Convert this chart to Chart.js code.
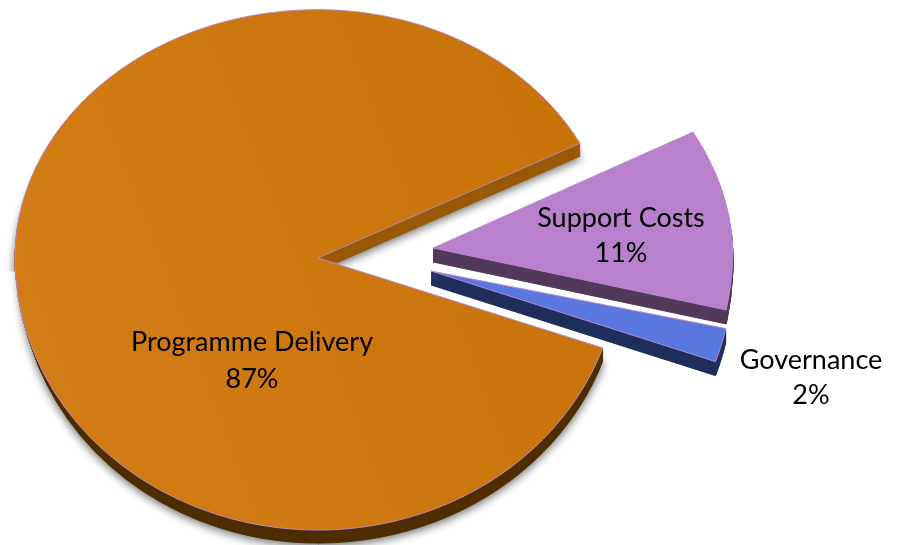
<!DOCTYPE html>
<html>
<head>
<meta charset="utf-8">
<title>Expenditure</title>
<script src="https://cdn.jsdelivr.net/npm/chart.js@4/dist/chart.umd.min.js"></script>
<style>
  html, body { margin: 0; padding: 0; background: #fff; }
  canvas { display: block; }
</style>
</head>
<body>
<canvas id="pie" width="901" height="545"></canvas>
<script>
const categories = ["Programme Delivery", "Support Costs", "Governance"];
const shares = [87, 11, 2];

const topColors = ["#cc780e", "#b981cd", "#5977de"];
const wallUpper = ["#9a5a08", "#533a5b", "#202e5c"];
const wallLower = ["#4f2e02", "#533a5b", "#202e5c"];
const explode = [[0, 0], [115, -10], [113, 13]];
const labelSpots = [[252, 342, 379], [621, 218, 253], [811, 360, 395]];
const depths = [13, 14, 14];

// The picture has perspective, so each slice is flattened piece by piece around its tip.
// box is the part of the slice the piece covers, sx/sy/k are scale and shear.
const B = 2000;
const pieces = [
  [
    { box: [-B, -B, 0.5, 0.5], sx: 1, sy: 0.82, k: 0, up: true },
    { box: [0, -B, B, 0.5], sx: 0.975, sy: 0.82, k: 0, up: true },
    { box: [-B, 0, 0.5, B], sx: 1, sy: 0.898, k: 0, up: false, lean: 0.0012 },
    { box: [0, 0, B, B], sx: 0.996, sy: 0.898, k: 0, up: false }
  ],
  [
    { box: [-B, -B, B, 0.5], sx: 0.99, sy: 0.829, k: 0.052, up: true },
    { box: [-B, 0, B, B], sx: 0.99, sy: 0.976, k: 0, up: false }
  ],
  [
    { box: [-B, -2, B, B], sx: 0.995, sy: 0.905, k: 0, up: false }
  ]
];

function drawPiece(ctx, el, p, tipX, tipY, sx, opts, shadow) {
  const saved = el.options;
  el.options = Object.assign(Object.create(saved), opts);
  ctx.save();
  ctx.beginPath();
  ctx.rect(tipX + p.box[0], tipY + p.box[1], p.box[2] - p.box[0], p.box[3] - p.box[1]);
  ctx.clip();
  if (shadow) {
    ctx.shadowColor = "rgba(0,0,0,0.6)";
    ctx.shadowBlur = 10;
    ctx.shadowOffsetX = 0;
    ctx.shadowOffsetY = 2;
  }
  ctx.transform(sx, 0, p.k * p.sy, p.sy, tipX, tipY);
  ctx.translate(-el.x, -el.y);
  el.draw(ctx);
  ctx.restore();
  el.options = saved;
}

const fakeThreeD = {
  id: "fakeThreeD",
  beforeDatasetsDraw(chart) {
    const ctx = chart.ctx;
    const arcs = chart.getDatasetMeta(0).data;
    arcs.forEach((el, i) => {
      const tipX = el.x + explode[i][0], tipY = el.y + explode[i][1];
      for (let d = depths[i]; d >= 1; d--) {
        pieces[i].forEach(p => {
          const wall = p.up ? wallUpper[i] : wallLower[i];
          const sx = p.sx - (p.lean || 0) * d;
          drawPiece(ctx, el, p, tipX, tipY + d, sx,
            { backgroundColor: wall, borderColor: wall, borderWidth: 1 },
            i === 0 && d === depths[i]);
        });
      }
      let fill = topColors[i];
      if (i === 0) {
        fill = ctx.createLinearGradient(15, 400, 620, 200);
        fill.addColorStop(0, "#d27d15");
        fill.addColorStop(1, "#c8730a");
      }
      pieces[i].forEach(p => {
        drawPiece(ctx, el, p, tipX, tipY, p.sx,
          { backgroundColor: fill, borderWidth: 1, borderColor: "#b98ad0" }, false);
      });
    });
    return false;
  },
  afterDraw(chart) {
    const ctx = chart.ctx;
    ctx.save();
    ctx.fillStyle = "#000";
    ctx.font = "27px Lato";
    ctx.textAlign = "center";
    ctx.textBaseline = "middle";
    categories.forEach((name, i) => {
      ctx.fillText(name, labelSpots[i][0], labelSpots[i][1]);
      ctx.fillText(shares[i] + "%", labelSpots[i][0], labelSpots[i][2]);
    });
    ctx.restore();
  }
};

new Chart(document.getElementById("pie"), {
  type: "pie",
  data: {
    labels: categories,
    datasets: [{ data: shares, backgroundColor: topColors }]
  },
  options: {
    responsive: false,
    animation: false,
    events: [],
    rotation: 109.3,
    radius: 303,
    layout: { padding: { right: 265, bottom: 29 } },
    plugins: { legend: { display: false }, tooltip: { enabled: false } }
  },
  plugins: [fakeThreeD]
});
</script>
</body>
</html>
